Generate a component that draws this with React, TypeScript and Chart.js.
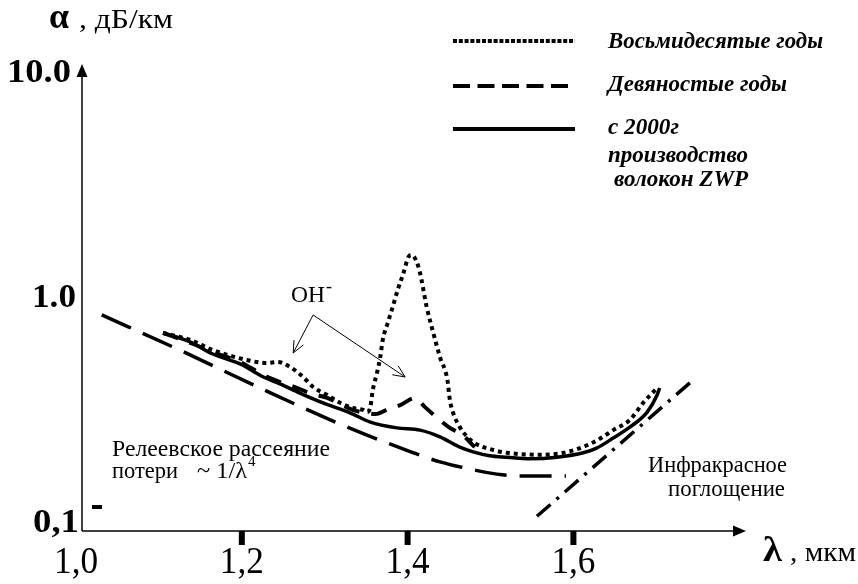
import React, { useEffect, useRef } from 'react';
import { Chart, registerables } from 'chart.js';

Chart.register(...registerables);

// ---- Axes ----
const X_MIN = 1.0072;
const X_MAX = 1.807;
const Y_MIN = 0.0912;
const Y_MAX = 10.74;
const X_TICKS = [1.0, 1.2, 1.4, 1.6];
const X_TICK_LABELS = ['1,0', '1,2', '1,4', '1,6'];
const X_TICK_MARKS = [1.2, 1.4, 1.6];
const Y_TICKS = [10, 1, 0.1];
const Y_TICK_LABELS = ['10.0', '1.0', '0,1'];

// ---- Series (λ, мкм ; α, дБ/км) ----
const EIGHTIES_X = [1.105, 1.138, 1.165, 1.206, 1.230, 1.243, 1.258, 1.274, 1.286, 1.303, 1.319, 1.334, 1.346, 1.351, 1.355, 1.358, 1.363, 1.367, 1.370, 1.376, 1.382, 1.388, 1.395, 1.401, 1.405, 1.410, 1.415, 1.423, 1.431, 1.439, 1.448, 1.451, 1.455, 1.463, 1.472, 1.481, 1.499, 1.520, 1.560, 1.588, 1.608, 1.629, 1.648, 1.668, 1.684, 1.701];
const EIGHTIES_Y = [0.692, 0.644, 0.581, 0.525, 0.509, 0.514, 0.489, 0.441, 0.398, 0.367, 0.338, 0.321, 0.315, 0.308, 0.324, 0.386, 0.459, 0.541, 0.644, 0.766, 0.903, 1.074, 1.278, 1.506, 1.537, 1.460, 1.278, 0.903, 0.692, 0.541, 0.428, 0.348, 0.305, 0.264, 0.239, 0.224, 0.211, 0.203, 0.199, 0.203, 0.213, 0.231, 0.256, 0.284, 0.338, 0.394];

const NINETIES_X = [1.105, 1.138, 1.165, 1.198, 1.226, 1.246, 1.267, 1.282, 1.303, 1.334, 1.349, 1.361, 1.379, 1.391, 1.409, 1.421, 1.436, 1.451, 1.466, 1.481];
const NINETIES_Y = [0.692, 0.625, 0.569, 0.514, 0.450, 0.419, 0.394, 0.374, 0.356, 0.315, 0.305, 0.302, 0.321, 0.331, 0.356, 0.324, 0.290, 0.262, 0.244, 0.215];

const ZWP_X = [1.105, 1.138, 1.165, 1.198, 1.226, 1.246, 1.270, 1.298, 1.331, 1.355, 1.387, 1.415, 1.439, 1.463, 1.479, 1.499, 1.520, 1.548, 1.580, 1.612, 1.628, 1.648, 1.668, 1.689, 1.701, 1.704];
const ZWP_Y = [0.692, 0.631, 0.558, 0.504, 0.441, 0.411, 0.374, 0.338, 0.305, 0.278, 0.262, 0.256, 0.239, 0.215, 0.205, 0.197, 0.194, 0.191, 0.194, 0.203, 0.213, 0.236, 0.264, 0.308, 0.367, 0.394];

const RAYLEIGH_X = [1.031, 1.125, 1.222, 1.318, 1.407, 1.439, 1.475, 1.514, 1.548, 1.591];
const RAYLEIGH_Y = [0.832, 0.581, 0.394, 0.273, 0.203, 0.185, 0.172, 0.162, 0.160, 0.160];

const IR_X = [1.556, 1.747];
const IR_Y = [0.106, 0.436];

// OH- annotation arrows (data coords): junction, left tip, right tip
const OH_JUNCTION = [1.286, 0.832];
const OH_TIPS = [[1.262, 0.564], [1.397, 0.441]];

const SERIES_NAMES = ['Восьмидесятые годы', 'Девяностые годы', 'с 2000г'];

const SERIF = "'Liberation Serif', 'Times New Roman', serif";

const toPts = (xs: number[], ys: number[]) => xs.map((x, i) => ({ x, y: ys[i] }));

function drawText(
  ctx: CanvasRenderingContext2D,
  s: string,
  x: number,
  y: number,
  font: string,
  align: CanvasTextAlign = 'left',
  width?: number
) {
  ctx.save();
  ctx.font = font;
  ctx.textBaseline = 'alphabetic';
  ctx.textAlign = align;
  ctx.fillStyle = '#000';
  let sx = 1;
  if (width) sx = width / ctx.measureText(s).width;
  ctx.translate(x, y);
  ctx.scale(sx, 1);
  ctx.fillText(s, 0, 0);
  ctx.restore();
}

function arrowHeadOpen(ctx: CanvasRenderingContext2D, fx: number, fy: number, tx: number, ty: number, len: number) {
  const a = Math.atan2(ty - fy, tx - fx);
  const spread = 0.42;
  ctx.beginPath();
  ctx.moveTo(tx - len * Math.cos(a - spread), ty - len * Math.sin(a - spread));
  ctx.lineTo(tx, ty);
  ctx.lineTo(tx - len * Math.cos(a + spread), ty - len * Math.sin(a + spread));
  ctx.stroke();
}

const overlay = {
  id: 'overlay',
  afterDraw(chart: any) {
    const ctx: CanvasRenderingContext2D = chart.ctx;
    const { left, right, top, bottom } = chart.chartArea;
    const xs = chart.scales.x;
    const ys = chart.scales.y;
    ctx.save();
    ctx.strokeStyle = '#000';
    ctx.fillStyle = '#000';
    ctx.setLineDash([]);

    // y axis with arrow
    ctx.lineWidth = 1.5;
    ctx.beginPath();
    ctx.moveTo(left, bottom);
    ctx.lineTo(left, top + 8);
    ctx.stroke();
    ctx.beginPath();
    ctx.moveTo(left, top - 1);
    ctx.lineTo(left - 5.5, top + 12);
    ctx.lineTo(left + 5.5, top + 12);
    ctx.closePath();
    ctx.fill();

    // x axis with arrow
    ctx.beginPath();
    ctx.moveTo(left, bottom);
    ctx.lineTo(right - 8, bottom);
    ctx.stroke();
    ctx.beginPath();
    ctx.moveTo(right + 1, bottom);
    ctx.lineTo(right - 12, bottom - 5.5);
    ctx.lineTo(right - 12, bottom + 5.5);
    ctx.closePath();
    ctx.fill();

    // x tick marks
    X_TICK_MARKS.forEach((v) => {
      const px = xs.getPixelForValue(v);
      ctx.fillRect(px - 3, bottom, 6, 14);
    });
    // small mark near 0,1
    ctx.fillRect(left + 10, ys.getPixelForValue(0.1) - 17, 10, 4);

    // x tick labels
    X_TICKS.forEach((v, i) => {
      const px = xs.getPixelForValue(v);
      drawText(ctx, X_TICK_LABELS[i], px, bottom + 42, `37px ${SERIF}`, 'center', 44);
    });
    // y tick labels
    const yRight = [71, 76, 79];
    const yWidth = [64, 44, 46];
    Y_TICKS.forEach((v, i) => {
      const py = ys.getPixelForValue(v);
      drawText(ctx, Y_TICK_LABELS[i], yRight[i], py + 10, `bold 34px ${SERIF}`, 'right', yWidth[i]);
    });

    // axis titles
    drawText(ctx, 'α', 49, 28, `bold 36px ${SERIF}`, 'left', 20);
    drawText(ctx, ', дБ/км', 79, 28, `27px ${SERIF}`, 'left', 94);
    drawText(ctx, 'λ', 763, 561, `bold 36px ${SERIF}`, 'left', 19);
    drawText(ctx, ', мкм', 790, 561, `27px ${SERIF}`, 'left', 66);

    // legend
    const lx0 = 453, lx1 = 575;
    ctx.lineWidth = 4;
    ctx.lineCap = 'butt';
    ctx.setLineDash([4, 1.8]);
    ctx.beginPath(); ctx.moveTo(lx0, 41); ctx.lineTo(lx1, 41); ctx.stroke();
    ctx.setLineDash([17, 7.5]);
    ctx.beginPath(); ctx.moveTo(lx0, 86); ctx.lineTo(lx1, 86); ctx.stroke();
    ctx.setLineDash([]);
    ctx.beginPath(); ctx.moveTo(lx0, 129); ctx.lineTo(lx1, 129); ctx.stroke();
    const lf = `italic bold 23px ${SERIF}`;
    drawText(ctx, SERIES_NAMES[0], 608, 48, lf, 'left', 215);
    drawText(ctx, SERIES_NAMES[1], 608, 91, lf, 'left', 179);
    drawText(ctx, SERIES_NAMES[2], 608, 134, lf, 'left', 71);
    drawText(ctx, 'производство', 608, 162, lf, 'left', 140);
    drawText(ctx, 'волокон ZWP', 614, 186, lf, 'left', 134);

    // OH- annotation
    drawText(ctx, 'OH', 291, 302, `24px ${SERIF}`, 'left', 34);
    drawText(ctx, '-', 326, 292, `18px ${SERIF}`, 'left');
    ctx.lineWidth = 1;
    const jx = xs.getPixelForValue(OH_JUNCTION[0]);
    const jy = ys.getPixelForValue(OH_JUNCTION[1]);
    OH_TIPS.forEach(([tx, ty]) => {
      const px = xs.getPixelForValue(tx);
      const py = ys.getPixelForValue(ty);
      ctx.beginPath(); ctx.moveTo(jx, jy); ctx.lineTo(px, py); ctx.stroke();
      arrowHeadOpen(ctx, jx, jy, px, py, 13);
    });

    // Rayleigh text
    const tf = `23px ${SERIF}`;
    drawText(ctx, 'Релеевское рассеяние', 112, 456, tf, 'left', 218);
    drawText(ctx, 'потери', 112, 478, tf, 'left', 66);
    drawText(ctx, '~ 1/λ', 197, 478, tf, 'left', 50);
    drawText(ctx, '4', 248, 466, `15px ${SERIF}`, 'left');

    // IR text
    drawText(ctx, 'Инфракрасное', 787, 472, tf, 'right', 139);
    drawText(ctx, 'поглощение', 785, 496, tf, 'right', 117);

    ctx.restore();
  },
};

export default function App() {
  const ref = useRef<HTMLCanvasElement | null>(null);
  useEffect(() => {
    if (!ref.current) return;
    const chart = new Chart(ref.current, {
      type: 'line',
      data: {
        datasets: [
          {
            label: SERIES_NAMES[2],
            data: toPts(ZWP_X, ZWP_Y),
            borderColor: '#000',
            borderWidth: 3.5,
            pointRadius: 0,
            cubicInterpolationMode: 'monotone',
          },
          {
            label: SERIES_NAMES[0],
            data: toPts(EIGHTIES_X, EIGHTIES_Y),
            borderColor: '#000',
            borderWidth: 4,
            borderDash: [4, 4],
            borderCapStyle: 'butt',
            pointRadius: 0,
            cubicInterpolationMode: 'monotone',
          },
          {
            label: SERIES_NAMES[1],
            data: toPts(NINETIES_X, NINETIES_Y),
            borderColor: '#000',
            borderWidth: 4,
            borderDash: [16, 12],
            pointRadius: 0,
            cubicInterpolationMode: 'monotone',
          },
          {
            label: 'Релеевское рассеяние',
            data: toPts(RAYLEIGH_X, RAYLEIGH_Y),
            borderColor: '#000',
            borderWidth: 3.5,
            borderDash: [32, 13],
            pointRadius: 0,
            cubicInterpolationMode: 'monotone',
          },
          {
            label: 'Инфракрасное поглощение',
            data: toPts(IR_X, IR_Y),
            borderColor: '#000',
            borderWidth: 3.5,
            borderDash: [18, 8, 3, 8],
            pointRadius: 0,
          },
        ],
      },
      options: {
        responsive: false,
        animation: false,
        devicePixelRatio: 1,
        layout: { padding: { left: 82, right: 113, top: 65, bottom: 53 } },
        plugins: { legend: { display: false }, tooltip: { enabled: false } },
        scales: {
          x: { type: 'linear', min: X_MIN, max: X_MAX, display: false, bounds: 'data' },
          y: { type: 'logarithmic', min: Y_MIN, max: Y_MAX, display: false, bounds: 'data' },
        },
      },
      plugins: [overlay],
    } as any);
    return () => chart.destroy();
  }, []);
  return (
    <div style={{ position: 'absolute', left: 0, top: 0, width: 858, height: 584, background: '#fff' }}>
      <canvas ref={ref} width={858} height={584} />
    </div>
  );
}
